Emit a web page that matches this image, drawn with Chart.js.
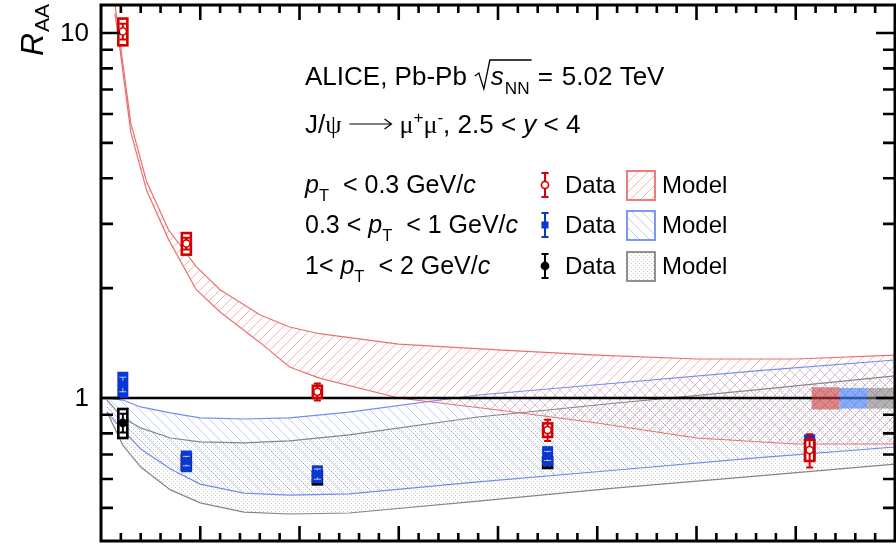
<!DOCTYPE html>
<html>
<head>
<meta charset="utf-8">
<script src="https://cdn.jsdelivr.net/npm/chart.js@4.4.0/dist/chart.umd.min.js"></script>
<style>
  html, body { margin: 0; padding: 0; background: #fff; }
  #wrap { width: 896px; height: 547px; position: relative; }
</style>
</head>
<body>
<div id="wrap"><canvas id="raa"></canvas></div>
<script>
// mean number of participants per centrality class
const nPart = [11, 43, 109, 225, 357];

// J/psi R_AA, pT < 0.3 GeV/c
const raaLow = [10.1, 2.65, 1.04, 0.817, 0.72];
const statLow = [0.5, 0.1, 0.055, 0.055, 0.075];
const sysLow = [0.85, 0.18, 0.04, 0.035, 0.048];

// 0.3 < pT < 1 GeV/c
const raaMid = [1.09, 0.672, 0.619, 0.694, 0.74];
const statMid = [0.05, 0.02, 0.02, 0.02, 0.03];
const sysMid = [0.09, 0.046, 0.035, 0.044, 0.055];

// 1 < pT < 2 GeV/c
const raaHigh = [0.855, 0.668, 0.605, 0.665, 0.72];
const statHigh = [0.05, 0.02, 0.02, 0.02, 0.04];
const sysHigh = [0.078, 0.032, 0.025, 0.022, 0.044];

// global (correlated) uncertainties, one per pT bin
const globalUnc = [0.07, 0.065, 0.065];

// model, pT < 0.3 GeV/c (photoproduction + hadronic)
const modelLowN = [7, 9, 15, 23, 34, 48, 60, 80, 95, 110, 150, 200, 250, 300, 350, 400];
const modelLowUp = [12.0, 10.0, 5.67, 3.91, 2.89, 2.29, 1.98, 1.69, 1.565, 1.50, 1.405, 1.354, 1.311, 1.279, 1.279, 1.311];
const modelLowDn = [11.3, 9.5, 5.35, 3.7, 2.72, 1.98, 1.72, 1.42, 1.216, 1.134, 1.0, 0.927, 0.854, 0.777, 0.748, 0.748];

// model, 0.3 < pT < 1 and 1 < pT < 2 GeV/c
const modelN = [3, 11, 20, 35, 50, 72, 95, 125, 190, 260, 330, 400];
const modelMidUp = [1.0, 0.987, 0.945, 0.910, 0.882, 0.876, 0.882, 0.915, 1.019, 1.099, 1.186, 1.271];
const modelMidDn = [0.915, 0.817, 0.725, 0.639, 0.581, 0.549, 0.542, 0.546, 0.589, 0.635, 0.685, 0.734];
const modelHighUp = [0.987, 0.882, 0.828, 0.777, 0.758, 0.753, 0.763, 0.792, 0.887, 0.969, 1.052, 1.149];
const modelHighDn = [0.915, 0.743, 0.647, 0.560, 0.516, 0.487, 0.481, 0.484, 0.522, 0.567, 0.611, 0.659];

// axis ticks
const xTickValues = [0, 10, 20, 30, 40, 50, 60, 70, 80, 90, 100, 110, 120, 130, 140, 150, 160, 170, 180, 190, 200,
  210, 220, 230, 240, 250, 260, 270, 280, 290, 300, 310, 320, 330, 340, 350, 360, 370, 380, 390, 400];
const yTickValues = [0.4, 0.5, 0.6, 0.7, 0.8, 0.9, 1, 2, 3, 4, 5, 6, 7, 8, 9, 10];
const yLabelValues = [1, 10];
const yLabelText = ['1', '10'];

const SANS = '"Liberation Sans", Arial, Helvetica, sans-serif';
const SERIF = '"Liberation Serif", "Times New Roman", serif';

const RED = '#d40000', BLUE = '#0a37d2', BLACK = '#000';
const RED_LINE = 'rgba(232,96,96,0.9)', BLUE_LINE = 'rgba(95,130,235,0.9)', GRAY_LINE = 'rgba(120,120,120,0.9)';

function hatch(color, dir) {
  const s = 10, c = document.createElement('canvas');
  c.width = c.height = s;
  const g = c.getContext('2d');
  g.strokeStyle = color;
  g.lineWidth = 0.9;
  g.beginPath();
  if (dir > 0) {
    g.moveTo(-1, s + 1); g.lineTo(s + 1, -1);
    g.moveTo(-1, 1); g.lineTo(1, -1);
    g.moveTo(s - 1, s + 1); g.lineTo(s + 1, s - 1);
  } else {
    g.moveTo(-1, -1); g.lineTo(s + 1, s + 1);
    g.moveTo(s - 1, -1); g.lineTo(s + 1, 1);
    g.moveTo(-1, s - 1); g.lineTo(1, s + 1);
  }
  g.stroke();
  return g.createPattern(c, 'repeat');
}

function dots(color) {
  const s = 4, c = document.createElement('canvas');
  c.width = c.height = s;
  const g = c.getContext('2d');
  g.fillStyle = color;
  g.fillRect(1, 1, 1, 1);
  g.fillRect(3, 3, 1, 1);
  return g.createPattern(c, 'repeat');
}

const redHatch = hatch('rgba(240,110,110,0.6)', 1);
const blueHatch = hatch('rgba(110,145,235,0.5)', -1);
const grayDots = dots('rgba(140,140,140,0.45)');

function pts(xs, ys) {
  return xs.map((x, i) => ({ x: x, y: ys[i] }));
}

function band(xs, up, dn, color, fill) {
  return [
    { data: pts(xs, up), borderColor: color, borderWidth: 1.2, pointRadius: 0, tension: 0, fill: '+1', backgroundColor: fill },
    { data: pts(xs, dn), borderColor: color, borderWidth: 1.2, pointRadius: 0, tension: 0, fill: false }
  ];
}

// text made of runs: plain, italic, sub/superscript, serif
function runs(ctx, x, y, parts, size) {
  for (const p of parts) {
    const small = p.sub || p.sup;
    const fs = small ? size * 0.66 : size;
    ctx.font = (p.it ? 'italic ' : '') + fs + 'px ' + (p.serif ? SERIF : SANS);
    const dy = p.sub ? size * 0.33 : p.sup ? -size * 0.4 : 0;
    ctx.fillText(p.t, x, y + dy);
    x += ctx.measureText(p.t).width + (p.gap || 0);
  }
  return x;
}

function errBar(ctx, px, y0, y1, color, w) {
  ctx.strokeStyle = color;
  ctx.lineWidth = w || 2;
  ctx.beginPath();
  ctx.moveTo(px, y0); ctx.lineTo(px, y1);
  ctx.moveTo(px - 3.5, y0); ctx.lineTo(px + 3.5, y0);
  ctx.moveTo(px - 3.5, y1); ctx.lineTo(px + 3.5, y1);
  ctx.stroke();
}

function marker(ctx, px, py, kind, color) {
  ctx.lineWidth = 1.6;
  if (kind === 'square') {
    ctx.fillStyle = color;
    ctx.fillRect(px - 3.5, py - 3.5, 7, 7);
  } else {
    ctx.beginPath();
    ctx.arc(px, py, 3.6, 0, Math.PI * 2);
    ctx.fillStyle = kind === 'open' ? '#fff' : color;
    ctx.fill();
    ctx.strokeStyle = color;
    ctx.stroke();
  }
}

const series = [
  { v: raaHigh, st: statHigh, sy: sysHigh, color: BLACK, box: 'open', kind: 'dot' },
  { v: raaMid, st: statMid, sy: sysMid, color: BLUE, box: 'filled', kind: 'square' },
  { v: raaLow, st: statLow, sy: sysLow, color: RED, box: 'open', kind: 'open' }
];

const decor = {
  id: 'decor',
  afterDatasetsDraw(chart) {
    const { ctx, chartArea: a, scales: { x, y } } = chart;
    ctx.save();
    ctx.beginPath();
    ctx.rect(a.left, a.top, a.right - a.left, a.bottom - a.top);
    ctx.clip();

    // unity line
    const y1 = y.getPixelForValue(1);
    ctx.strokeStyle = '#000';
    ctx.lineWidth = 2.5;
    ctx.beginPath();
    ctx.moveTo(a.left, y1); ctx.lineTo(a.right, y1);
    ctx.stroke();

    // global uncertainty boxes at unity
    const gEdges = [358, 372, 386, 400];
    const gColors = ['rgba(200,60,60,0.6)', 'rgba(70,130,245,0.65)', 'rgba(130,130,130,0.6)'];
    globalUnc.forEach((u, i) => {
      const x0 = x.getPixelForValue(gEdges[i]), x1 = x.getPixelForValue(gEdges[i + 1]);
      const t = y.getPixelForValue(1 + u), b = y.getPixelForValue(1 - u);
      ctx.fillStyle = gColors[i];
      ctx.fillRect(x0, t, x1 - x0, b - t);
    });

    // data: systematic boxes, statistical bars, markers
    series.forEach(s => {
      s.v.forEach((v, i) => {
        const px = x.getPixelForValue(nPart[i]);
        const t = y.getPixelForValue(v + s.sy[i]), b = y.getPixelForValue(v - s.sy[i]);
        const e0 = y.getPixelForValue(v + s.st[i]), e1 = y.getPixelForValue(v - s.st[i]);
        if (s.box === 'filled') {
          ctx.fillStyle = s.color;
          ctx.fillRect(px - 5.5, t, 11, b - t);
          errBar(ctx, px, e0, e1, 'rgba(255,255,255,0.7)', 1);
          marker(ctx, px, y.getPixelForValue(v), s.kind, s.color);
        } else {
          ctx.fillStyle = '#fff';
          ctx.fillRect(px - 5, t, 10, b - t);
          ctx.strokeStyle = s.color;
          ctx.lineWidth = 2.6;
          ctx.strokeRect(px - 4.5, t, 9, b - t);
          errBar(ctx, px, e0, e1, s.color);
          marker(ctx, px, y.getPixelForValue(v), s.kind, s.color);
        }
      });
    });
    ctx.restore();
  },
  afterDraw(chart) {
    const { ctx, chartArea: a, scales: { x, y } } = chart;
    ctx.save();
    ctx.strokeStyle = '#000';
    ctx.lineWidth = 3;
    ctx.strokeRect(a.left, a.top, a.right - a.left, a.bottom - a.top);

    // ticks pointing inwards on all four sides
    ctx.lineWidth = 2.6;
    ctx.beginPath();
    xTickValues.forEach(v => {
      if (v <= x.min || v >= x.max) return;
      const px = x.getPixelForValue(v), len = v % 50 === 0 ? 15 : 8;
      ctx.moveTo(px, a.bottom); ctx.lineTo(px, a.bottom - len);
      ctx.moveTo(px, a.top); ctx.lineTo(px, a.top + len);
    });
    yTickValues.forEach(v => {
      if (v <= y.min || v >= y.max) return;
      const py = y.getPixelForValue(v), len = yLabelValues.includes(v) ? 19 : 12;
      ctx.moveTo(a.left, py); ctx.lineTo(a.left + len, py);
      ctx.moveTo(a.right, py); ctx.lineTo(a.right - len, py);
    });
    ctx.stroke();

    // y tick labels
    ctx.fillStyle = '#000';
    ctx.font = '26px ' + SANS;
    ctx.textAlign = 'right';
    ctx.textBaseline = 'middle';
    yLabelValues.forEach((v, i) => ctx.fillText(yLabelText[i], a.left - 12, y.getPixelForValue(v) + 1));

    // y title
    ctx.textAlign = 'left';
    ctx.textBaseline = 'alphabetic';
    ctx.save();
    ctx.translate(43, 56);
    ctx.rotate(-Math.PI / 2);
    ctx.font = 'italic 32px ' + SANS;
    ctx.fillText('R', 0, 0);
    const wR = ctx.measureText('R').width;
    ctx.font = '21px ' + SANS;
    ctx.fillText('AA', wR + 1, 6);
    ctx.restore();

    // header, first line
    const fh = 26;
    let cx = runs(ctx, 305, 85, [{ t: 'ALICE, Pb-Pb' }], fh) + 8;
    const sx = runs(ctx, cx + 16, 85, [{ t: 's', it: true, gap: 1 }, { t: 'NN', sub: true }], fh);
    ctx.strokeStyle = '#000';
    ctx.lineWidth = 1.3;
    ctx.beginPath();
    ctx.moveTo(cx, 76); ctx.lineTo(cx + 4, 73); ctx.lineTo(cx + 9, 89); ctx.lineTo(cx + 15, 60); ctx.lineTo(sx + 2, 60);
    ctx.stroke();
    runs(ctx, sx + 8, 85, [{ t: '=', gap: 9 }, { t: '5.02 TeV' }], fh);

    // header, second line
    cx = runs(ctx, 305, 133, [{ t: 'J/' }, { t: 'ψ', serif: true }], fh) + 8;
    ctx.lineWidth = 1.2;
    ctx.beginPath();
    ctx.moveTo(cx, 124); ctx.lineTo(cx + 42, 124);
    ctx.moveTo(cx + 35, 119); ctx.lineTo(cx + 42, 124); ctx.lineTo(cx + 35, 129);
    ctx.stroke();
    runs(ctx, cx + 50, 133, [
      { t: 'μ', serif: true }, { t: '+', sup: true }, { t: 'μ', serif: true }, { t: '-', sup: true },
      { t: ', 2.5 < ' }, { t: 'y', it: true }, { t: ' < 4' }
    ], fh);

    // legend
    const rows = [
      { base: 193, text: [{ t: 'p', it: true }, { t: 'T', sub: true, gap: 7 }, { t: ' < 0.3 GeV/' }, { t: 'c', it: true }],
        color: RED, kind: 'open', fill: redHatch, edge: RED_LINE },
      { base: 233, text: [{ t: '0.3 < ' }, { t: 'p', it: true }, { t: 'T', sub: true, gap: 7 }, { t: ' < 1 GeV/' }, { t: 'c', it: true }],
        color: BLUE, kind: 'square', fill: blueHatch, edge: BLUE_LINE },
      { base: 274, text: [{ t: '1< ' }, { t: 'p', it: true }, { t: 'T', sub: true, gap: 7 }, { t: ' < 2 GeV/' }, { t: 'c', it: true }],
        color: BLACK, kind: 'dot', fill: grayDots, edge: GRAY_LINE }
    ];
    rows.forEach(r => {
      ctx.fillStyle = '#000';
      runs(ctx, 305, r.base, r.text, 25);
      const cy = r.base - 8;
      errBar(ctx, 545, cy - 12, cy + 12, r.color);
      marker(ctx, 545, cy, r.kind, r.color);
      ctx.fillStyle = '#000';
      runs(ctx, 565, r.base, [{ t: 'Data' }], 24);
      ctx.fillStyle = '#fff';
      ctx.fillRect(627, cy - 14, 28, 29);
      ctx.fillStyle = r.fill;
      ctx.fillRect(627, cy - 14, 28, 29);
      ctx.strokeStyle = r.edge;
      ctx.lineWidth = 1.8;
      ctx.strokeRect(627, cy - 14, 28, 29);
      ctx.fillStyle = '#000';
      runs(ctx, 662, r.base, [{ t: 'Model' }], 24);
    });
    ctx.restore();
  }
};

new Chart(document.getElementById('raa'), {
  type: 'line',
  data: {
    datasets: [
      ...band(modelLowN, modelLowUp, modelLowDn, RED_LINE, redHatch),
      ...band(modelN, modelMidUp, modelMidDn, BLUE_LINE, blueHatch),
      ...band(modelN, modelHighUp, modelHighDn, GRAY_LINE, grayDots)
    ]
  },
  options: {
    responsive: true,
    maintainAspectRatio: false,
    animation: false,
    events: [],
    layout: { padding: { left: 101, top: 5, right: 1, bottom: 6 } },
    plugins: { legend: { display: false }, tooltip: { enabled: false } },
    scales: {
      x: { type: 'linear', min: 0, max: 400, display: false },
      y: { type: 'logarithmic', min: 0.4057, max: 11.93, display: false }
    }
  },
  plugins: [decor]
});
</script>
</body>
</html>
